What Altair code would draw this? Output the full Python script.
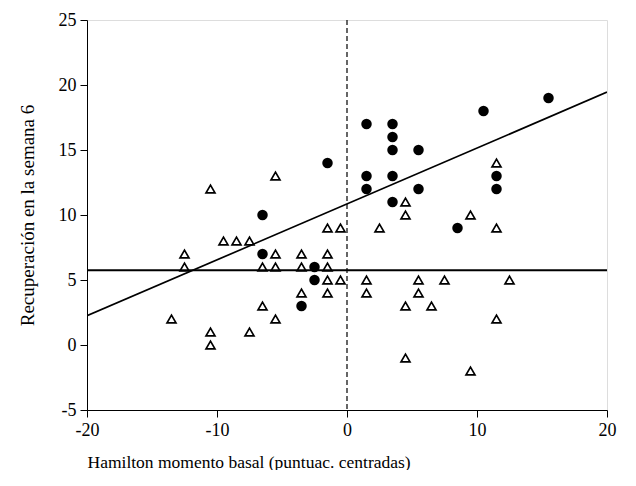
import altair as alt
import pandas as pd

# Filled circles
circ_x = [-6.5, -6.5, -2.5, -2.5, -3.5, -1.5, 1.5, 3.5, 3.5, 3.5, 5.5, 1.5, 3.5, 1.5, 5.5, 3.5, 8.5, 10.5, 15.5, 11.5, 11.5]
circ_y = [10, 7, 6, 5, 3, 14, 17, 17, 16, 15, 15, 13, 13, 12, 12, 11, 9, 18, 19, 13, 12]

# Open triangles
tri_x = [-13.5, -12.5, -12.5, -10.5, -10.5, -10.5, -9.5, -8.5, -7.5, -7.5, -6.5, -6.5,
         -5.5, -5.5, -5.5, -5.5, -3.5, -3.5, -3.5, -1.5, -1.5, -1.5, -1.5, -1.5,
         -0.5, -0.5, 1.5, 1.5, 2.5, 4.5, 4.5, 4.5, 4.5, 5.5, 5.5, 6.5, 7.5,
         9.5, 9.5, 11.5, 11.5, 11.5, 12.5]
tri_y = [2, 7, 6, 12, 1, 0, 8, 8, 8, 1, 6, 3,
         13, 7, 6, 2, 7, 6, 4, 9, 7, 6, 5, 4,
         9, 5, 5, 4, 9, 11, 10, 3, -1, 5, 4, 3, 5,
         10, -2, 14, 9, 2, 5]

# Regression line endpoints and reference lines
reg_x = [-20, 20]
reg_y = [2.25, 19.45]
hline_y = [5.75]
vline_x = [0]

x_ticks = [-20, -10, 0, 10, 20]
y_ticks = [-5, 0, 5, 10, 15, 20, 25]

FONT = "Liberation Serif"

circ_df = pd.DataFrame({"x": circ_x, "y": circ_y})
tri_df = pd.DataFrame({"x": tri_x, "y": tri_y})
reg_df = pd.DataFrame({"x": reg_x, "y": reg_y})
h_df = pd.DataFrame({"y": hline_y})
v_df = pd.DataFrame({"x": vline_x})

xs = alt.Scale(domain=[-20, 20], nice=False, zero=False)
ys = alt.Scale(domain=[-5, 25], nice=False, zero=False)

xaxis = alt.Axis(
    values=x_ticks, grid=False, tickSize=7, tickColor="black", domainColor="black",
    labelFont=FONT, labelFontSize=18, labelColor="black", labelPadding=4,
    labelFlush=False, labelOverlap=False, labelExpr="'' + datum.value",
    title="Hamilton momento basal (puntuac. centradas)",
    titleFont=FONT, titleFontSize=17.5, titleFontWeight="normal", titleColor="black",
    titleX=0, titleAlign="left", titleY=52, titleBaseline="middle",
)
yaxis = alt.Axis(
    values=y_ticks, grid=False, tickSize=7, tickColor="black", domainColor="black",
    labelFont=FONT, labelFontSize=18, labelColor="black", labelPadding=4,
    labelFlush=False, labelOverlap=False, labelExpr="'' + datum.value",
    title="Recuperación en la semana 6",
    titleFont=FONT, titleFontSize=19, titleFontWeight="normal", titleColor="black",
    titleX=-60, titleY=195, titleAlign="center", titleBaseline="middle", titleAngle=270,
)

vline = alt.Chart(v_df).mark_rule(color="black", strokeWidth=1.2, strokeDash=[5, 3]).encode(
    x=alt.X("x:Q", scale=xs, axis=xaxis)
)
hline = alt.Chart(h_df).mark_rule(color="black", strokeWidth=2).encode(
    y=alt.Y("y:Q", scale=ys, axis=yaxis)
)
reg = alt.Chart(reg_df).mark_line(color="black", strokeWidth=1.7, clip=True).encode(
    x=alt.X("x:Q", scale=xs, axis=xaxis),
    y=alt.Y("y:Q", scale=ys, axis=yaxis),
)
tris = alt.Chart(tri_df).mark_point(
    shape="triangle-up", filled=False, color="black", strokeWidth=1.7, size=80, opacity=1
).encode(
    x=alt.X("x:Q", scale=xs, axis=xaxis),
    y=alt.Y("y:Q", scale=ys, axis=yaxis),
)
circs = alt.Chart(circ_df).mark_circle(color="black", size=110, opacity=1).encode(
    x=alt.X("x:Q", scale=xs, axis=xaxis),
    y=alt.Y("y:Q", scale=ys, axis=yaxis),
)

chart = alt.layer(vline, hline, reg, tris, circs).properties(
    width=520, height=390,
    padding={"left": 79, "top": 12, "right": 13, "bottom": 60},
    autosize=alt.AutoSizeParams(type="none"),
).configure_view(stroke="black", strokeWidth=1).configure(background="white")

chart.save("out.html", embed_options={"renderer": "svg", "actions": False})
